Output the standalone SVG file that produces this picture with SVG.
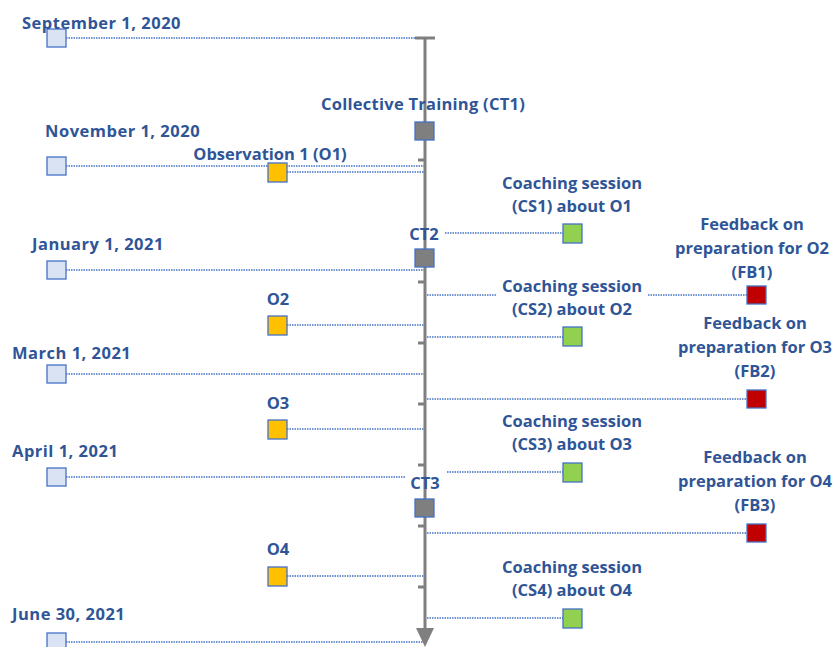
<svg xmlns="http://www.w3.org/2000/svg" width="834" height="647" viewBox="0 0 834 647">
<style>
text{font-family:"Open Sans","Liberation Sans",sans-serif;font-weight:700;font-size:16.5px;fill:#2F5597}
.c{text-anchor:middle}
.d{letter-spacing:0.5px}
.dot{stroke:#4472C4;stroke-width:1.3;stroke-dasharray:1.5 1;fill:none}
.date{fill:#DAE3F3;stroke:#4472C4;stroke-width:1.3}
.obs{fill:#FFC000;stroke:#4472C4;stroke-width:1.3}
.ct{fill:#7F7F7F;stroke:#4472C4;stroke-width:1.3}
.cs{fill:#92D050;stroke:#4472C4;stroke-width:1.3}
.fb{fill:#C00000;stroke:#4472C4;stroke-width:1.3}
.axis{stroke:#7F7F7F;stroke-width:3;fill:none}
.tick{stroke:#7F7F7F;stroke-width:3}
</style>
<g id="connectors">
<line class="dot" x1="66" y1="38" x2="415" y2="38"/>
<line class="dot" x1="66" y1="166" x2="425" y2="166"/>
<line class="dot" x1="287" y1="172" x2="425" y2="172"/>
<line class="dot" x1="445" y1="233" x2="563" y2="233"/>
<line class="dot" x1="66" y1="270" x2="424" y2="270"/>
<line class="dot" x1="427" y1="295" x2="497" y2="295"/>
<line class="dot" x1="648" y1="295" x2="747" y2="295"/>
<line class="dot" x1="287" y1="325" x2="424" y2="325"/>
<line class="dot" x1="427" y1="337" x2="563" y2="337"/>
<line class="dot" x1="66" y1="374" x2="424" y2="374"/>
<line class="dot" x1="427" y1="399" x2="747" y2="399"/>
<line class="dot" x1="287" y1="429" x2="424" y2="429"/>
<line class="dot" x1="447" y1="472" x2="563" y2="472"/>
<line class="dot" x1="66" y1="477" x2="405" y2="477"/>
<line class="dot" x1="427" y1="533" x2="747" y2="533"/>
<line class="dot" x1="287" y1="576" x2="424" y2="576"/>
<line class="dot" x1="427" y1="618" x2="563" y2="618"/>
<line class="dot" x1="66" y1="642" x2="424" y2="642"/>
</g>
<g id="axis">
<line class="axis" x1="425" y1="38" x2="425" y2="630"/>
<polygon points="416,628 434,628 425,647" fill="#7F7F7F"/>
<line class="axis" x1="415" y1="38" x2="435" y2="38"/>
<line class="tick" x1="418" y1="160" x2="425" y2="160"/>
<line class="tick" x1="418" y1="282" x2="425" y2="282"/>
<line class="tick" x1="418" y1="343" x2="425" y2="343"/>
<line class="tick" x1="418" y1="404" x2="425" y2="404"/>
<line class="tick" x1="418" y1="465" x2="425" y2="465"/>
<line class="tick" x1="418" y1="526" x2="425" y2="526"/>
<line class="tick" x1="418" y1="587" x2="425" y2="587"/>
</g>
<g id="date-sep"><rect class="date" x="47" y="29" width="19" height="18"/><text class="d" x="22" y="29">September 1, 2020</text></g>
<g id="date-nov"><rect class="date" x="47" y="157" width="19" height="18"/><text class="d" x="45" y="137">November 1, 2020</text></g>
<g id="date-jan"><rect class="date" x="47" y="261" width="19" height="18"/><text class="d" x="32" y="250">January 1, 2021</text></g>
<g id="date-mar"><rect class="date" x="47" y="365" width="19" height="18"/><text class="d" x="12" y="359">March 1, 2021</text></g>
<g id="date-apr"><rect class="date" x="47" y="468" width="19" height="18"/><text class="d" x="12" y="457">April 1, 2021</text></g>
<g id="date-jun"><rect class="date" x="47" y="633" width="19" height="18"/><text class="d" x="12" y="620">June 30, 2021</text></g>
<g id="ct1"><rect class="ct" x="415" y="122" width="19" height="18"/><text class="c" x="423" y="110" style="letter-spacing:0.25px">Collective Training (CT1)</text></g>
<g id="ct2"><rect class="ct" x="415" y="249" width="19" height="18"/><text class="c" x="424" y="240">CT2</text></g>
<g id="ct3"><rect class="ct" x="415" y="499" width="19" height="18"/><text class="c" x="425" y="489">CT3</text></g>
<g id="o1"><rect class="obs" x="268" y="163" width="19" height="19"/><text class="c" x="270" y="160">Observation 1 (O1)</text></g>
<g id="o2"><rect class="obs" x="268" y="316" width="19" height="19"/><text class="c" x="278" y="305">O2</text></g>
<g id="o3"><rect class="obs" x="268" y="420" width="19" height="19"/><text class="c" x="278" y="409">O3</text></g>
<g id="o4"><rect class="obs" x="268" y="567" width="19" height="19"/><text class="c" x="278" y="555">O4</text></g>
<g id="cs1"><rect class="cs" x="563" y="224" width="19" height="19"/><text class="c" x="572" y="189">Coaching session</text><text class="c" x="572" y="212">(CS1) about O1</text></g>
<g id="cs2"><rect class="cs" x="563" y="327" width="19" height="19"/><text class="c" x="572" y="292">Coaching session</text><text class="c" x="572" y="315">(CS2) about O2</text></g>
<g id="cs3"><rect class="cs" x="563" y="463" width="19" height="19"/><text class="c" x="572" y="427">Coaching session</text><text class="c" x="572" y="450">(CS3) about O3</text></g>
<g id="cs4"><rect class="cs" x="563" y="609" width="19" height="19"/><text class="c" x="572" y="573">Coaching session</text><text class="c" x="572" y="596">(CS4) about O4</text></g>
<g id="fb1"><rect class="fb" x="747" y="286" width="19" height="18"/><text class="c" x="752" y="230">Feedback on</text><text class="c" x="752" y="254">preparation for O2</text><text class="c" x="752" y="278">(FB1)</text></g>
<g id="fb2"><rect class="fb" x="747" y="390" width="19" height="18"/><text class="c" x="755" y="329">Feedback on</text><text class="c" x="755" y="353">preparation for O3</text><text class="c" x="755" y="377">(FB2)</text></g>
<g id="fb3"><rect class="fb" x="747" y="524" width="19" height="18"/><text class="c" x="755" y="463">Feedback on</text><text class="c" x="755" y="487">preparation for O4</text><text class="c" x="755" y="511">(FB3)</text></g>
</svg>
